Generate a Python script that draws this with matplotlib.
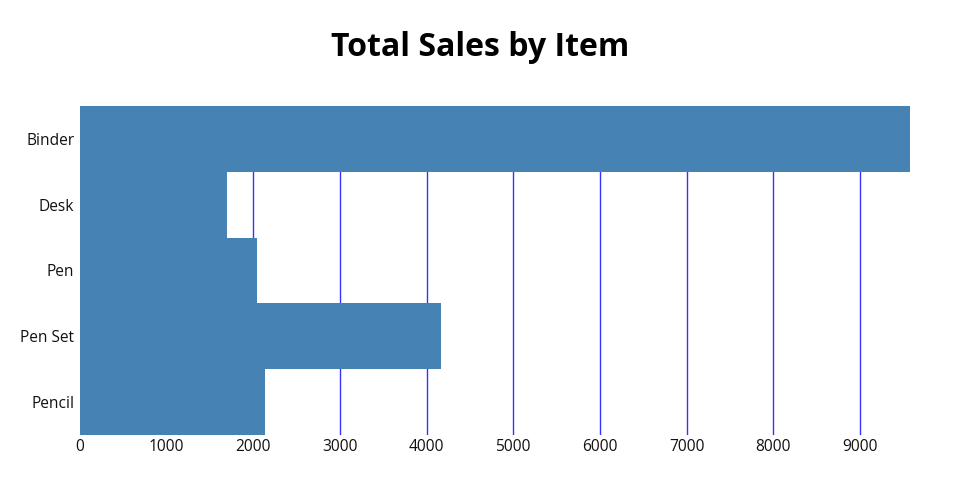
import matplotlib
matplotlib.use("Agg")
import matplotlib.pyplot as plt

plt.rcParams["font.family"] = ["Open Sans", "DejaVu Sans"]

items = ["Binder", "Desk", "Pen", "Pen Set", "Pencil"]
sales = [9577.65, 1700.0, 2045.22, 4169.87, 2135.14]
ticks = [0, 1000, 2000, 3000, 4000, 5000, 6000, 7000, 8000, 9000]

fig = plt.figure(figsize=(9.6, 5), dpi=100)
ax = fig.add_axes([80 / 960, 1 - 435 / 500, 830 / 960, 329 / 500])

ax.barh(items, sales, height=1.0, color="#4682B4", zorder=2)
ax.set_ylim(len(items) - 0.5, -0.5)
ax.set_xlim(0, max(sales))
ax.set_xticks(ticks)
ax.set_xticklabels([str(t) for t in ticks])
ax.grid(axis="x", color="#3333ff", lw=1, zorder=1)
ax.set_axisbelow(True)
for s in ax.spines.values():
    s.set_visible(False)
ax.tick_params(length=0, labelsize=11.2, colors="#111111", pad=3)
ax.tick_params(axis="y", pad=4)

fig.text(0.5, 1 - 48 / 500, "Total Sales by Item", ha="center", va="center",
         fontsize=23, fontweight="bold")

fig.savefig("out.png", dpi=100)
